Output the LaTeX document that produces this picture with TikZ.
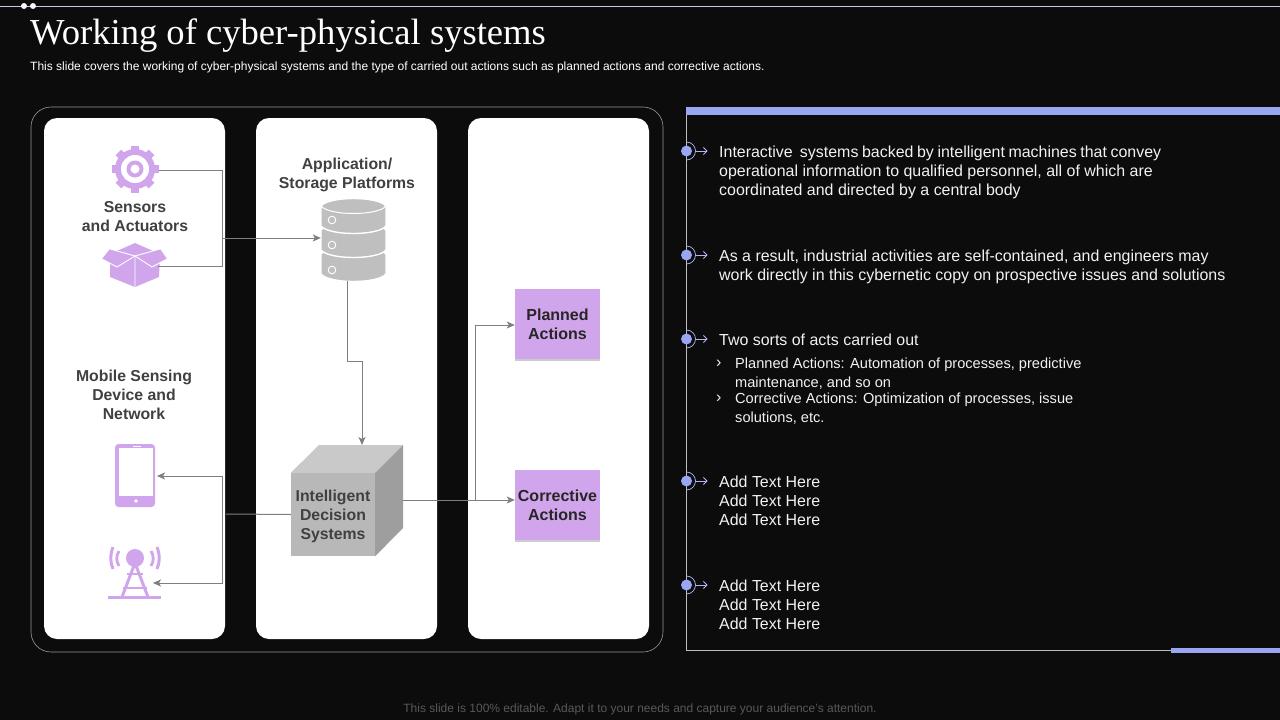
\documentclass[tikz,border=0pt]{standalone}
\usepackage{fontspec}
\setmainfont{Liberation Sans}
\newfontfamily\titlefont{Liberation Serif}
\usetikzlibrary{arrows.meta}
\definecolor{pagebg}{HTML}{0C0C0D}
\definecolor{lilac}{HTML}{D0A5EC}
\definecolor{periwinkle}{HTML}{9AA6F4}
\definecolor{inkgray}{HTML}{404040}
\definecolor{wiregray}{HTML}{7F7F7F}
\definecolor{dbgray}{HTML}{BFBFBF}
\begin{document}
\begin{tikzpicture}[
    x=1pt,y=-1pt,
    card/.style={
      fill=white,
      rounded corners=13pt
    },
    caption/.style={
      text=inkgray,
      font=\fontsize{15.8}{19}\selectfont\bfseries,
      align=center,
      inner sep=0pt
    },
    icon/.style={
      minimum width=#1,
      minimum height=#1,
      inner sep=0pt
    },
    actionbox/.style={
      fill=lilac,
      minimum width=85pt,
      minimum height=70pt,
      inner sep=0pt,
      text=black!85,
      font=\fontsize{16}{19}\selectfont\bfseries,
      align=center
    },
    wire/.style={
      draw=wiregray,
      line width=1pt
    },
    wirearrow/.style={
      wire,
      -{Stealth[length=8pt,width=7pt,inset=2pt]}
    },
    body/.style={
      text=white!95!black,
      font=\fontsize{15.95}{19}\selectfont,
      align=left,
      anchor=north west,
      inner sep=0pt
    },
    sublist/.style={
      text=white!95!black,
      font=\fontsize{14.6}{18.3}\selectfont,
      align=left,
      anchor=north west,
      inner sep=0pt
    }
  ]
    \useasboundingbox (0,0) rectangle (1280,720);
    \fill[pagebg] (0,0) rectangle (1280,720);

    \draw[periwinkle!60!white,line width=0.8pt] (0,6) -- (1280,6);
    \foreach \x in {24,33}
      \fill[white!90!periwinkle] (\x,6) circle (3);

    \node[anchor=west,inner sep=0pt,text=white,font=\titlefont\fontsize{36.6}{40}\selectfont] (title) at (30,36) {Working of cyber-physical systems};
    \node[anchor=west,inner sep=0pt,text=white,font=\fontsize{12}{14}\selectfont] (subtitle) at (30,67.5) {This slide covers the working of cyber-physical systems and the type of carried out actions such as planned actions and corrective actions.};
    \node[inner sep=0pt,text=white!35!black,font=\fontsize{12}{14}\selectfont] (footer) at (640,709.5) {This slide is 100\% editable. Adapt it to your needs and capture your audience's attention.};

    \draw[white!60!black,line width=0.6pt,rounded corners=20pt] (31,107) rectangle (663,652);
    \foreach \x in {44,256,468}
      \fill[card] (\x,118) rectangle ++(181,521);

    \node[caption] (sensors) at (135,216.5) {Sensors\\and Actuators};
    \node[caption] (mobile) at (134,395) {Mobile Sensing\\Device and\\Network};
    \node[caption] (platforms) at (347,174.5) {Application/\\Storage Platforms};

    \node[icon=47pt] (gear) at (135,169) {};
    \foreach \a in {0,45,...,315}
      \fill[lilac,rotate around={\a:(gear)}] (131,145.5) rectangle (139,155);
    \fill[lilac] (gear) circle (20);
    \fill[white] (gear) circle (14);
    \fill[lilac] (gear) circle (8.5);
    \fill[white] (gear) circle (4.5);

    \node[icon=48pt] (box) at (134.5,265) {};
    \fill[lilac] (110,254) -- (135,243) -- (160,254) -- (159,277) -- (135,287) -- (110,277) -- cycle;
    \fill[lilac] (110,249) -- (102,259) -- (117,267) -- (135,256) -- cycle;
    \fill[lilac] (160,249) -- (167,259) -- (152,267) -- (135,256) -- cycle;
    \draw[white,line width=0.9pt] (110,249) -- (135,256) -- (160,249) (135,256) -- (135,287);
    \draw[white,line width=0.9pt] (102,259) -- (117,267) -- (135,256) -- (152,267) -- (167,259);

    \node[icon=40pt,minimum height=63pt] (phone) at (135,475.5) {};
    \fill[lilac,rounded corners=3.5pt] (115,444) rectangle (155,507);
    \fill[white] (119,447.5) rectangle (153,496);
    \fill[white] (136,501) circle (1.8);
    \fill[white] (133,445.5) rectangle (141,446.8);

    \node[icon=53pt] (tower) at (135,572) {};
    \fill[lilac] (135,558) circle (9);
    \draw[lilac,line width=3pt] (135,563) -- (122,597) (135,563) -- (148,597);
    \draw[lilac,line width=2.8pt] (127,574) -- (143,574) (123,588) -- (147,588);
    \draw[lilac,line width=3pt] (108,597.5) -- (161,597.5);
    \draw[lilac,line width=2.8pt] (119,551) .. controls (116,556) and (116,561) .. (119,566);
    \draw[lilac,line width=2.8pt] (151,551) .. controls (154,556) and (154,561) .. (151,566);
    \draw[lilac,line width=3pt] (113,547) .. controls (110,555) and (110,562) .. (113,569);
    \draw[lilac,line width=3pt] (157,547) .. controls (160,555) and (160,562) .. (157,569);

    \node[icon=65pt,minimum height=82pt] (db) at (353.5,240) {};
    \foreach \y in {254,230,206}
      \filldraw[fill=dbgray,draw=white,line width=1.4pt] (321,\y) -- ++(0,20) .. controls +(8,10) and +(-8,10) .. ++(65,0) -- ++(0,-20) .. controls +(-8,-10) and +(8,-10) .. ++(-65,0) -- cycle;
    \draw[white,line width=1pt] (321,206) .. controls (329,216) and (378,216) .. (386,206);
    \foreach \y in {220,245,270}
      \draw[white,line width=0.9pt] (332,\y) circle (3.8);

    \node[fill=black!28,minimum width=84pt,minimum height=83pt,inner sep=0pt] (cube) at (333,514.5) {};
    \fill[black!21] (cube.north west) -- (319,445) -- (403,445) -- (cube.north east) -- cycle;
    \fill[black!38] (cube.north east) -- (403,445) -- (403,528) -- (cube.south east) -- cycle;
    \node[caption] (cubetext) at (333,516.5) {Intelligent\\Decision\\Systems};
    \coordinate (cubeside) at (403,500);

    \node[actionbox] (planned) at (557.5,324) {Planned\\Actions};
    \node[actionbox] (corrective) at (557.5,505) {Corrective\\Actions};
    \fill[black!20] (planned.south west) rectangle ++(85,2);
    \fill[black!20] (corrective.south west) rectangle ++(85,2);

    \coordinate (sensorjoin) at (222,238);
    \coordinate (branch) at (475,500);
    \coordinate (cardedge) at (226,514);
    \coordinate (mobilejoin) at (222,530);

    \draw[wire] (gear.east) ++(0,1) -- (222,170) -- (222,266) -- (158,266);
    \draw[wirearrow] (sensorjoin) -- (db.west |- sensorjoin);
    \draw[wirearrow] (347,281) -- (347,361) -- (362,361) -- (362,445);
    \draw[wirearrow] (cubeside) -- (corrective.west |- cubeside);
    \draw[wirearrow] (branch) -- (475,325) -- (planned.west |- 0,325);
    \draw[wire] (cube.west) -- (cardedge);
    \draw[wirearrow] (mobilejoin) -- (222,476) -- (157,476);
    \draw[wirearrow] (mobilejoin) -- (222,583) -- (153,583);

    \fill[periwinkle] (686,107) rectangle (1280,115);
    \draw[white!75!black,line width=0.9pt] (686.5,115) -- (686.5,650.5) -- (1280,650.5);
    \fill[periwinkle] (1171,648) rectangle (1280,653);

    \foreach \i/\y in {1/151,2/255,3/339,4/481,5/585} {
      \node[circle,fill=periwinkle,minimum size=11pt,inner sep=0pt] (dot\i) at (686.5,\y) {};
      \coordinate (tip\i) at (707.5,\y);
      \draw[periwinkle!80!white,line width=0.7pt] (686.5,\y-9) arc[start angle=90,end angle=-90,radius=9pt];
      \draw[periwinkle!80!white,line width=0.8pt,-{Straight Barb[length=3.5pt,width=7pt]}] (dot\i) ++(9,0) -- (tip\i);
    }

    \node[body] (item1) at (719,145.5) {\makebox[442pt][s]{Interactive\ \ systems backed by intelligent machines that convey}\\operational information to qualified personnel, all of which are\\coordinated and directed by a central body};
    \node[body] (item2) at (719,249.5) {As a result, industrial activities are self-contained, and engineers may\\work directly in this cybernetic copy on prospective issues and solutions};
    \node[body] (item3) at (719,333.5) {Two sorts of acts carried out};
    \node[sublist,font=\fontsize{16}{18}\selectfont] (chev1) at (716,360) {›};
    \node[sublist] (sub1) at (735,358) {Planned Actions: Automation of processes, predictive\\maintenance, and so on};
    \node[sublist,font=\fontsize{16}{18}\selectfont] (chev2) at (716,395) {›};
    \node[sublist] (sub2) at (735,393) {Corrective Actions: Optimization of processes, issue\\solutions, etc.};
    \node[body] (item4) at (719,475.5) {Add Text Here\\Add Text Here\\Add Text Here};
    \node[body] (item5) at (719,579.5) {Add Text Here\\Add Text Here\\Add Text Here};
  \end{tikzpicture}
\end{document}
